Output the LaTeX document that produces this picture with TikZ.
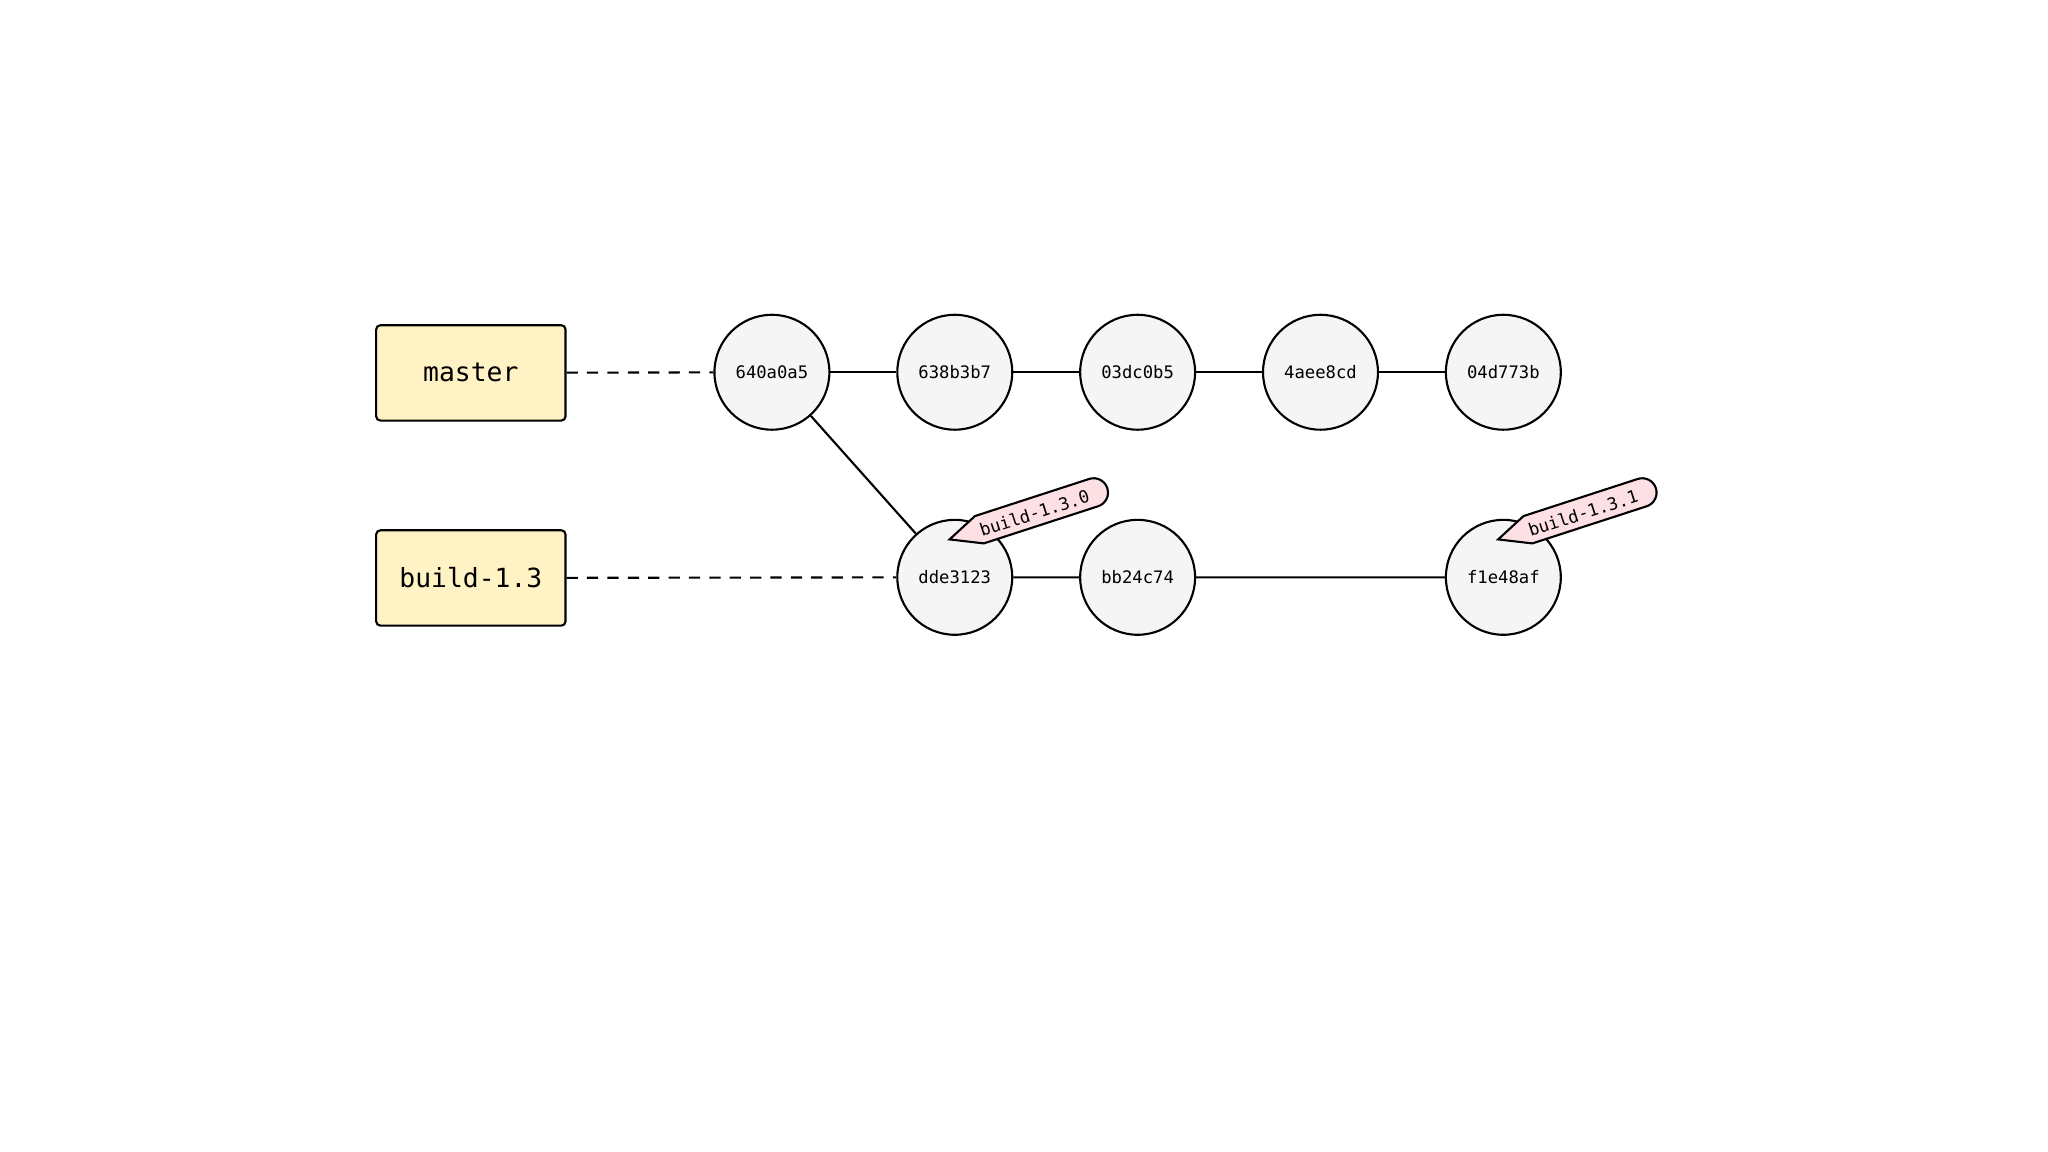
\documentclass[tikz,border=0pt]{standalone}
\usepackage{fontspec}
\setmonofont{DejaVu Sans Mono}
\begin{document}
\begin{tikzpicture}[x=0.013061cm,y=-0.013061cm,
  box/.style={draw,line width=0.6pt,rounded corners=1.2pt,fill={rgb,255:red,255;green,242;blue,196},minimum width=145*0.013061cm,minimum height=73*0.013061cm,font=\ttfamily\fontsize{7.5}{9}\selectfont},
  commit/.style={circle,draw,line width=0.6pt,fill={rgb,255:red,245;green,245;blue,246},minimum size=88*0.013061cm,inner sep=0pt,font=\ttfamily\fontsize{4.9}{6}\selectfont},
  lnk/.style={line width=0.6pt},
  ptr/.style={line width=0.6pt,dash pattern=on 3.2pt off 2.6pt}]
\useasboundingbox (0,0) rectangle (1568,882);
\node[box] (master) at (360.5,285.5) {master};
\node[box] (build) at (360.5,442.5) {build-1.3};
\node[commit] (c1) at (591,285) {640a0a5};
\node[commit] (c2) at (731,285) {638b3b7};
\node[commit] (c3) at (871,285) {03dc0b5};
\node[commit] (c4) at (1011,285) {4aee8cd};
\node[commit] (c5) at (1151,285) {04d773b};
\node[commit] (d1) at (731,442) {dde3123};
\node[commit] (d2) at (871,442) {bb24c74};
\node[commit] (d3) at (1151,442) {f1e48af};
\draw[ptr] (master) -- (c1);
\draw[ptr] (build) -- (d1);
\draw[lnk] (c1)--(c2) (c2)--(c3) (c3)--(c4) (c4)--(c5);
\draw[lnk] (c1)--(d1) (d1)--(d2) (d2)--(d3);
\foreach \n/\x/\y/\t in {t1/727/413/build-1.3.0, t2/1147/413/build-1.3.1}{
 \begin{scope}[shift={(\x,\y)},x=0.013061cm,y=0.013061cm,rotate=18]
  \draw[line width=0.6pt,fill={rgb,255:red,253;green,224;blue,227}] (0,0) -- (24,-11) -- (116,-11) arc[start angle=-90,end angle=90,radius=11] -- (24,11) -- cycle;
  \node[rotate=18,font=\ttfamily\fontsize{4.9}{6}\selectfont] (\n) at (68,-1) {\t};
 \end{scope}}
\end{tikzpicture}
\end{document}
